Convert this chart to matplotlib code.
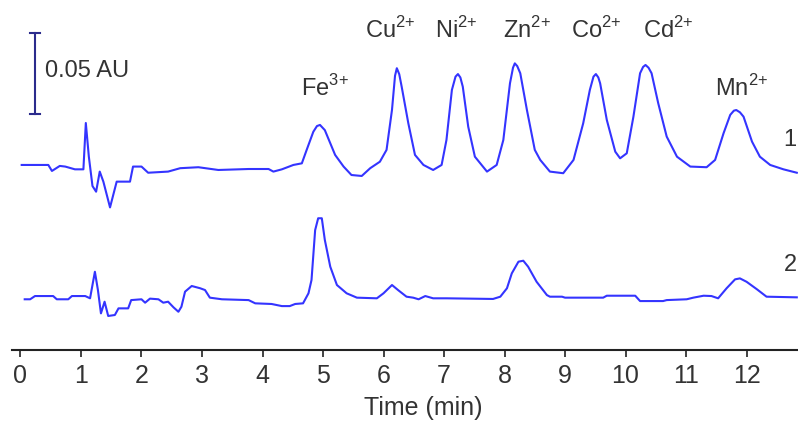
import matplotlib

matplotlib.use("Agg")

import matplotlib.pyplot as plt
import numpy as np

# trace 1 (mixture), time in min, signal in mAU above its own baseline
t1 = [0.02, 0.46, 0.52, 0.65, 0.74, 0.90, 1.04, 1.08, 1.13, 1.19, 1.25, 1.31, 1.37, 1.48,
      1.59, 1.81, 1.86, 2.00, 2.11, 2.44, 2.64, 2.94, 3.27, 3.77, 4.10, 4.18, 4.32, 4.51,
      4.65, 4.73, 4.84, 4.90, 4.95, 5.03, 5.12, 5.20, 5.34, 5.47, 5.64, 5.78, 5.94, 6.05,
      6.14, 6.19, 6.22, 6.26, 6.30, 6.41, 6.52, 6.66, 6.82, 6.96, 7.04, 7.13, 7.19, 7.23,
      7.27, 7.31, 7.40, 7.51, 7.71, 7.87, 7.98, 8.09, 8.14, 8.17, 8.21, 8.26, 8.37, 8.50,
      8.59, 8.75, 8.97, 9.14, 9.30, 9.41, 9.47, 9.51, 9.55, 9.58, 9.69, 9.83, 9.91, 10.02,
      10.13, 10.24, 10.29, 10.33, 10.38, 10.43, 10.54, 10.68, 10.85, 11.07, 11.34, 11.48,
      11.62, 11.73, 11.79, 11.83, 11.89, 11.95, 12.09, 12.22, 12.39, 12.61, 12.83]
s1 = [0, 0, -3.7, -0.6, -1.0, -2.7, -2.7, 25.9, 5.1, -13.0, -16.5, -4.1, -10.3, -26.2,
      -10.3, -10.3, -1.0, -1.0, -4.8, -4.1, -2.0, -1.4, -3.1, -2.5, -2.5, -4.1, -2.7, 0,
      1.0, 9.3, 20.5, 24.0, 24.7, 21.5, 13.4, 6.2, -1.0, -6.2, -6.8, -2.0, 2.0, 9.3,
      34.0, 55.0, 59.7, 56.0, 48.3, 25.7, 6.2, 0, -3.1, 0, 15.4, 46.3, 54.5, 56.1,
      54.0, 48.3, 23.6, 5.1, -4.1, 0, 15.4, 50.4, 60.0, 62.7, 61.0, 56.6, 33.9, 9.3,
      3.1, -4.1, -5.1, 3.1, 25.7, 46.3, 54.5, 56.1, 54.0, 50.4, 27.8, 8.2, 4.1, 7.2,
      29.8, 56.6, 60.5, 61.7, 60.0, 56.6, 38.1, 17.5, 5.1, -1.0, -1.4, 3.1,
      19.6, 30.9, 33.5, 33.9, 32.5, 29.8, 14.4, 5.1, 0, -2.7, -4.8]

# trace 2
t2 = [0.07, 0.16, 0.24, 0.54, 0.60, 0.79, 0.85, 1.07, 1.15, 1.19, 1.23, 1.28, 1.33, 1.39,
      1.45, 1.56, 1.62, 1.78, 1.83, 2.00, 2.06, 2.14, 2.28, 2.36, 2.44, 2.53, 2.61, 2.66,
      2.72, 2.83, 2.97, 3.05, 3.13, 3.33, 3.77, 3.88, 4.15, 4.32, 4.45, 4.54, 4.67, 4.76,
      4.81, 4.87, 4.92, 4.98, 5.03, 5.12, 5.23, 5.39, 5.56, 5.89, 6.00, 6.14, 6.24, 6.38,
      6.49, 6.58, 6.69, 6.82, 7.04, 7.81, 7.93, 8.04, 8.12, 8.23, 8.31, 8.39, 8.53, 8.70,
      8.75, 8.95, 9.00, 9.63, 9.69, 10.16, 10.24, 10.62, 10.68, 11.01, 11.12, 11.29, 11.42,
      11.53, 11.67, 11.81, 11.89, 12.00, 12.17, 12.33, 12.83]
s2 = [-1.4, -1.4, 0.6, 0.6, -1.4, -1.4, 0.6, 0.6, -0.8, 7.4, 15.6, 4.3, -10.1, -2.9,
      -11.7, -11.1, -7.0, -7.0, -1.9, -1.4, -3.5, -1.0, -1.4, -3.5, -2.9, -6.4, -9.1, -6.0,
      3.3, 6.8, 5.4, 4.3, -0.4, -1.4, -1.9, -3.9, -4.3, -5.6, -5.6, -4.3, -3.9, 2.3,
      10.5, 41.3, 48.6, 48.6, 35.2, 18.7, 7.4, 2.3, -0.4, -0.8, 2.3, 7.4, 4.3, 0.2,
      -0.4, -1.4, 0.6, -0.8, -0.8, -1.2, 0.2, 5.4, 14.6, 21.8, 22.4, 18.7, 9.4, 1.2,
      0.2, 0.2, -0.4, -0.4, 0.8, 0.8, -2.5, -2.5, -1.9, -1.4, -0.4, 0.8, 0.6,
      -0.8, 5.4, 10.9, 11.5, 9.4, 4.8, 0.2, -0.2]

ions = ["Fe", "Cu", "Ni", "Zn", "Co", "Cd", "Mn"]
charges = ["3", "2", "2", "2", "2", "2", "2"]
label_times = [5.03, 6.11, 7.21, 8.37, 9.51, 10.70, 11.91]
label_heights = [0.129, 0.165, 0.165, 0.165, 0.165, 0.165, 0.129]

x_ticks = list(range(0, 13))

OFFSET_1 = 0.0815  # AU, vertical shift of trace 1
LINE_COLOR = "#3434ff"
TEXT_COLOR = "#333333"
FS = 17

plt.rcParams["font.family"] = ["Liberation Sans", "DejaVu Sans"]
plt.rcParams["mathtext.fontset"] = "custom"
plt.rcParams["mathtext.rm"] = "Liberation Sans"

fig = plt.figure(figsize=(7.98, 4.22), dpi=100)
ax = fig.add_axes([12 / 798, 72 / 422, 786 / 798, 350 / 422])

ax.plot(t1, np.array(s1) / 1000 + OFFSET_1, color=LINE_COLOR, lw=1.5)
ax.plot(t2, np.array(s2) / 1000, color=LINE_COLOR, lw=1.5)

for ion, charge, t, h in zip(ions, charges, label_times, label_heights):
    ax.text(t, h, f"{ion}$^{{{charge}{{+}}}}$", ha="center", va="center",
            fontsize=FS, color=TEXT_COLOR)

ax.text(12.72, 0.097, "1", ha="center", va="center", fontsize=FS, color=TEXT_COLOR)
ax.text(12.72, 0.0198, "2", ha="center", va="center", fontsize=FS, color=TEXT_COLOR)

# 0.05 AU scale bar
bar_x, bar_lo = 0.24, 0.113
ax.plot([bar_x, bar_x], [bar_lo, bar_lo + 0.05], color="#2b2b8c", lw=1.5)
for yy in (bar_lo, bar_lo + 0.05):
    ax.plot([bar_x - 0.08, bar_x + 0.08], [yy, yy], color="#2b2b8c", lw=1.5)
ax.text(bar_x + 0.16, bar_lo + 0.025 + 0.0017, "0.05 AU", ha="left", va="center",
        fontsize=FS, color=TEXT_COLOR)

ax.set_xlim(-0.14, 12.85)
ax.set_ylim(-0.0327, 0.1833)
ax.set_xticks(x_ticks)
ax.set_yticks([])
for side in ("top", "right", "left"):
    ax.spines[side].set_visible(False)
ax.spines["bottom"].set_color("#222222")
ax.spines["bottom"].set_linewidth(1.5)
ax.tick_params(axis="x", direction="out", length=5, width=1.2, colors="#222222",
               labelsize=18, labelcolor=TEXT_COLOR, pad=5)
ax.set_xlabel("Time (min)", fontsize=18, color=TEXT_COLOR, va="center")
ax.xaxis.set_label_coords((423 - 12) / 786, -58 / 350)
ax.patch.set_alpha(0)

fig.savefig("out.png", dpi=100)
